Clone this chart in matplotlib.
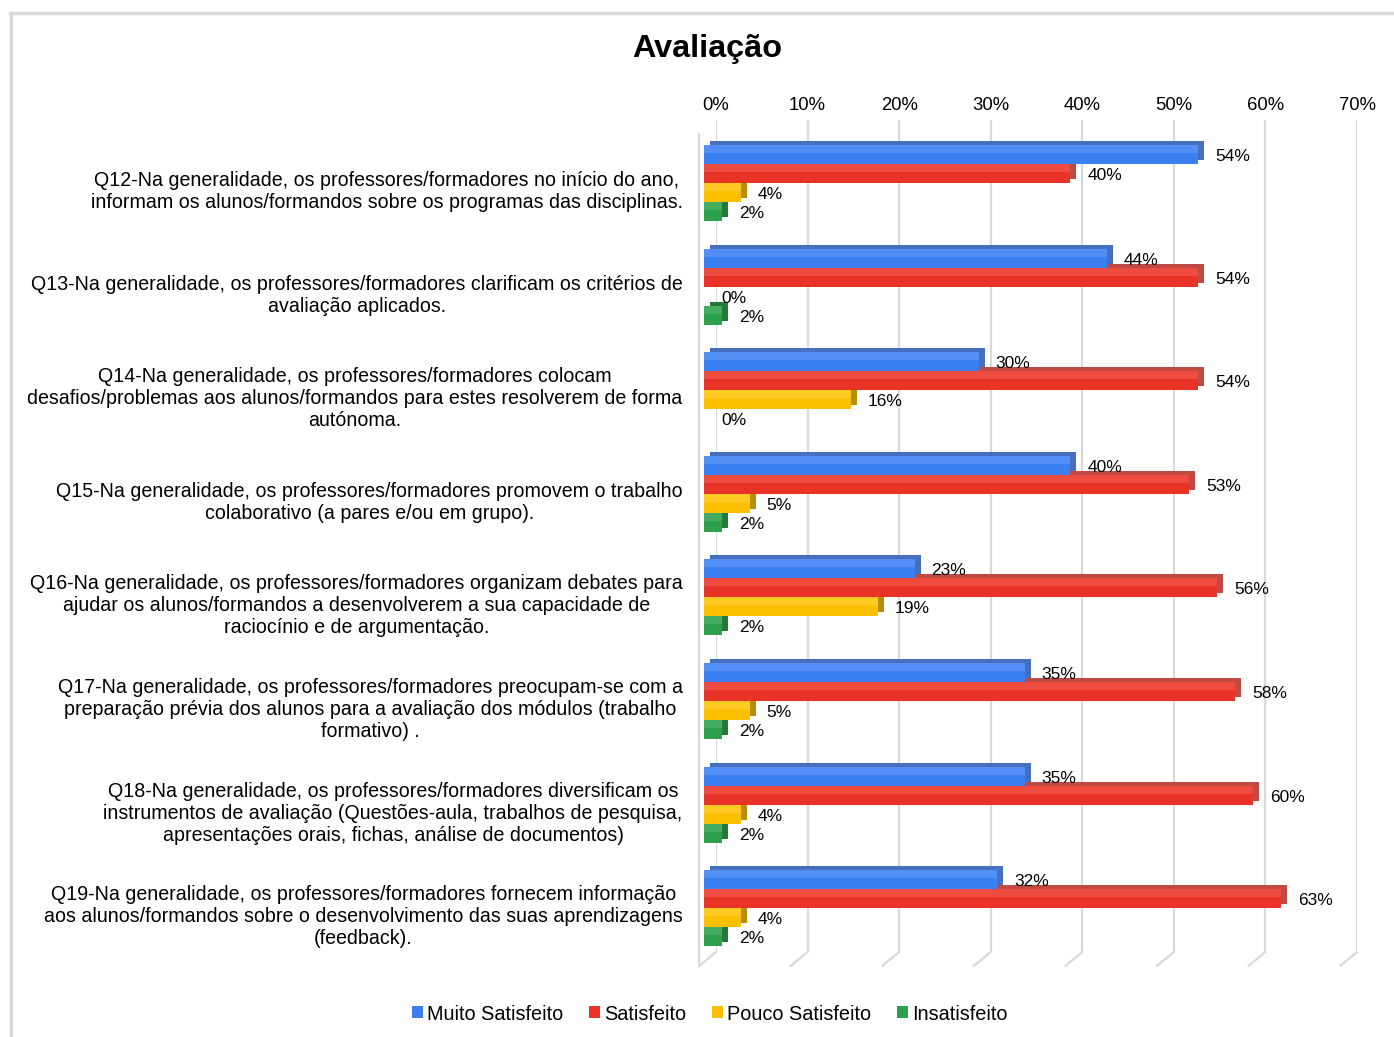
import matplotlib
matplotlib.use("Agg")
import matplotlib.pyplot as plt
from matplotlib.transforms import ScaledTranslation
from matplotlib.patches import Patch
from matplotlib.lines import Line2D

plt.rcParams['font.family'] = ['Liberation Sans', 'DejaVu Sans']

# ---- data ----
categories = [
    "Q12-Na generalidade, os professores/formadores no início do ano,\ninformam os alunos/formandos sobre os programas das disciplinas.",
    "Q13-Na generalidade, os professores/formadores clarificam os critérios de\navaliação aplicados.",
    "Q14-Na generalidade, os professores/formadores colocam\ndesafios/problemas aos alunos/formandos para estes resolverem de forma\nautónoma.",
    "Q15-Na generalidade, os professores/formadores promovem o trabalho\ncolaborativo (a pares e/ou em grupo).",
    "Q16-Na generalidade, os professores/formadores organizam debates para\najudar os alunos/formandos a desenvolverem a sua capacidade de\nraciocínio e de argumentação.",
    "Q17-Na generalidade, os professores/formadores preocupam-se com a\npreparação prévia dos alunos para a avaliação dos módulos (trabalho\nformativo) .",
    "Q18-Na generalidade, os professores/formadores diversificam os\ninstrumentos de avaliação (Questões-aula, trabalhos de pesquisa,\napresentações orais, fichas, análise de documentos)",
    "Q19-Na generalidade, os professores/formadores fornecem informação\naos alunos/formandos sobre o desenvolvimento das suas aprendizagens\n(feedback).",
]
series_names = ["Muito Satisfeito", "Satisfeito", "Pouco Satisfeito", "Insatisfeito"]
muito_satisfeito = [54, 44, 30, 40, 23, 35, 35, 32]
satisfeito = [40, 54, 54, 53, 56, 58, 60, 63]
pouco_satisfeito = [4, 0, 16, 5, 19, 5, 4, 4]
insatisfeito = [2, 2, 0, 2, 2, 2, 2, 2]
series_values = [muito_satisfeito, satisfeito, pouco_satisfeito, insatisfeito]
x_ticks = [0, 10, 20, 30, 40, 50, 60, 70]
x_tick_labels = ["0%", "10%", "20%", "30%", "40%", "50%", "60%", "70%"]
title = "Avaliação"

# ---- style ----
front_colors = ["#3a80f2", "#e93327", "#fcbf00", "#2ca04b"]
top_colors = ["#5290f6", "#ee4c41", "#fdc923", "#45ad60"]
back_colors = ["#4670bf", "#bf4a41", "#b88d08", "#217a39"]
grid_color = "#d9d9d9"

W, H, DPI = 1394, 1037, 100
fig = plt.figure(figsize=(W / DPI, H / DPI), dpi=DPI, facecolor="white")
ax = fig.add_axes([716 / W, 1 - 952 / H, (1357 - 716) / W, (952 - 120) / H])

def px(dx, dy):
    return ScaledTranslation(dx / DPI, dy / DPI, fig.dpi_scale_trans)

n = len(categories)
group_px = 103.6
ax.set_xlim(0, 70)
ax.set_ylim((952 - 183) / group_px, (120 - 183) / group_px)

bar_h = 19 / group_px
hl_h = 8 / group_px
offsets = [-1.5, -0.5, 0.5, 1.5]

front_tr = ax.transData + px(-12, 0)
back_tr = ax.transData + px(-6, 4)
label_tr = ax.transData + px(5, -2)

ys = list(range(n))
for s, vals in enumerate(series_values):
    pos = [y + offsets[s] * bar_h for y in ys]
    ax.barh(pos, vals, height=bar_h, left=0, color=back_colors[s],
            transform=back_tr, zorder=3, linewidth=0, clip_on=False)
    ax.barh(pos, vals, height=bar_h, left=0, color=front_colors[s],
            transform=front_tr, zorder=4, linewidth=0, clip_on=False)
    # lighter upper band of the front face (gradient look)
    ax.barh([p - bar_h / 2 + hl_h / 2 for p in pos], vals, height=hl_h, left=0,
            color=top_colors[s], transform=front_tr, zorder=5, linewidth=0,
            clip_on=False)
    for p, v in zip(pos, vals):
        ax.text(v, p, f"{v}%", transform=label_tr, ha="left", va="center",
                fontsize=12.5, color="black", zorder=6)

# gridlines (back wall) and floor diagonals
ax.grid(axis="x", color=grid_color, linewidth=1.6, zorder=0)
ax.grid(axis="y", visible=False)
for xv in x_ticks:
    ax.annotate("", xy=(xv, 0), xycoords=("data", "axes fraction"),
                xytext=(-17 * 72 / DPI, -14 * 72 / DPI), textcoords="offset points",
                arrowprops=dict(arrowstyle="-", color=grid_color, lw=1.6,
                                shrinkA=0, shrinkB=0), zorder=0)
ax.plot([0, 0], [0, 1], transform=ax.get_xaxis_transform() + px(-17, -14),
        color=grid_color, lw=1.6, zorder=1, clip_on=False)

for sp in ax.spines.values():
    sp.set_visible(False)
ax.set_facecolor("none")

ax.xaxis.tick_top()
ax.set_xticks(x_ticks)
ax.set_xticklabels(x_tick_labels, fontsize=13.3)
ax.tick_params(axis="x", length=0, pad=4)

ax.set_yticks(ys)
ax.set_yticklabels(categories, fontsize=14.1)
ax.tick_params(axis="y", length=0, pad=24)
for lbl in ax.get_yticklabels():
    lbl.set_multialignment("center")
    lbl.set_linespacing(1.2)
    lbl.set_transform(lbl.get_transform() + px(0, -5))

fig.text(707 / W, 1 - 49 / H, title, ha="center", va="center",
         fontsize=23.3, fontweight="bold")

handles = [Patch(facecolor=c, edgecolor="none") for c in front_colors]
fig.legend(handles, series_names, loc="center", bbox_to_anchor=(710 / W, 1 - 1014 / H),
           ncol=4, frameon=False, fontsize=14.3, handlelength=0.55, handleheight=0.55,
           handletextpad=0.2, columnspacing=1.3)

# outer frame (top and left edges)
fig.add_artist(Line2D([10 / W, 1], [1 - 13 / H, 1 - 13 / H], color="#d9d9d9", lw=2.5,
                      transform=fig.transFigure))
fig.add_artist(Line2D([11 / W, 11 / W], [0, 1 - 13 / H], color="#d9d9d9", lw=2.5,
                      transform=fig.transFigure))

fig.savefig("out.png", dpi=DPI, facecolor="white")
